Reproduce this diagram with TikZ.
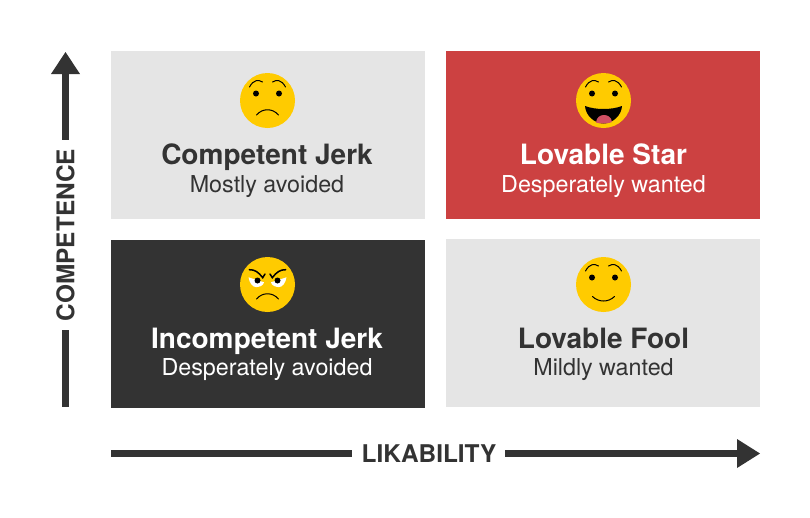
\documentclass[tikz,border=0pt]{standalone}
\usepackage{fontspec}
\setmainfont{TeX Gyre Heros}
\definecolor{dark}{HTML}{333333}
\definecolor{lgray}{HTML}{E5E5E5}
\definecolor{redq}{HTML}{CC4141}
\definecolor{face}{HTML}{FFCB00}
\definecolor{tongue}{HTML}{CF4F63}
\tikzset{
  tile/.style={draw=none,anchor=north west,inner sep=0pt,minimum width=314pt,minimum height=168pt},
  titleD/.style={text=dark,font=\fontsize{28}{30}\selectfont\bfseries,inner sep=0pt,anchor=base},
  subD/.style={text=dark,font=\fontsize{23.3}{26}\selectfont,inner sep=0pt,anchor=base},
  titleL/.style={titleD,text=white},
  subL/.style={subD,text=white},
  axlabel/.style={text=dark,font=\fontsize{24.4}{26}\selectfont\bfseries,inner sep=0pt},
  fc/.style={fill=face,draw=none,circle,inner sep=0pt,minimum size=55pt},
  ln/.style={draw=black,line width=1pt,line cap=round},
  hvy/.style={ln,line width=1.5pt},
  ax/.style={fill=dark,draw=none}
}
\newcommand{\stdeyes}{%
  \fill[black] (-11.5,7) circle (3);
  \fill[black] (11.5,7) circle (3);
  \draw[ln] (-18,13.5) .. controls (-14,21) and (-9,21) .. (-5,18.5);
  \draw[ln] (18,13.5) .. controls (14,21) and (9,21) .. (5,18.5);
}
\begin{document}
\begin{tikzpicture}[x=1pt,y=-1pt]
\useasboundingbox (0,0) rectangle (810,517);
\node[tile,fill=lgray] (tl) at (111,51) {};
\node[tile,fill=redq] (tr) at (446,51) {};
\node[tile,fill=dark] (bl) at (111,240) {};
\node[tile,fill=lgray] (br) at (446,239) {};
\node[titleD] (t1) at (267,164.5) {Competent Jerk};
\node[subD] (s1) at (267,192) {Mostly avoided};
\node[titleL] (t2) at (603.5,164.5) {Lovable Star};
\node[subL] (s2) at (603.5,192) {Desperately wanted};
\node[titleL] (t3) at (267,348.5) {Incompetent Jerk};
\node[subL] (s3) at (267,375.5) {Desperately avoided};
\node[titleD] (t4) at (603.5,348.5) {Lovable Fool};
\node[subD] (s4) at (603.5,375.5) {Mildly wanted};
% faces
\node[fc] (f1) at (267.5,100.5) {};
\node[fc] (f2) at (603.5,100.5) {};
\node[fc] (f3) at (267.5,284.5) {};
\node[fc] (f4) at (603.5,284.5) {};
\begin{scope}[shift={(f1.center)},y=1pt]
  \stdeyes
  \draw[ln] (-11,-14.5) .. controls (-5,-7.5) and (5,-7.5) .. (11,-14.5);
\end{scope}
\begin{scope}[shift={(f2.center)},y=1pt]
  \stdeyes
  \fill[black] (-18.5,-5.5) .. controls (-8,-9.5) and (8,-9.5) .. (18.5,-5.5)
     .. controls (18,-15) and (9,-23) .. (0,-23) .. controls (-9,-23) and (-18,-15) .. (-18.5,-5.5) -- cycle;
  \fill[tongue] (-7.5,-22) .. controls (-7,-16.5) and (-3,-14.5) .. (0.5,-14.5)
     .. controls (4,-14.5) and (8,-16.5) .. (8.5,-21.5)
     .. controls (5.5,-22.7) and (3,-23) .. (0,-23) .. controls (-3,-23) and (-5.5,-22.7) .. (-7.5,-22) -- cycle;
\end{scope}
\begin{scope}[shift={(f3.center)},y=1pt]
  \fill[white] (-19,7.2) -- (-3.5,2.2) .. controls (-4,-1.5) and (-9,-2.6) .. (-11.5,-2.6) .. controls (-15,-2.6) and (-18,1.5) .. (-19,7.2) -- cycle;
  \fill[white] (19,7.2) -- (3.5,2.2) .. controls (4,-1.5) and (9,-2.6) .. (11.5,-2.6) .. controls (15,-2.6) and (18,1.5) .. (19,7.2) -- cycle;
  \fill[black] (-10,4) circle (3);
  \fill[black] (10,4) circle (3);
  \draw[hvy] (-18.2,14.8) .. controls (-13,15) and (-9,12.5) .. (-4.8,6.8) -- (-2.5,10.5);
  \draw[hvy] (18.2,14.8) .. controls (13,15) and (9,12.5) .. (4.8,6.8) -- (2.5,10.5);
  \draw[ln] (-11,-14.5) .. controls (-5,-7.5) and (5,-7.5) .. (11,-14.5);
\end{scope}
\begin{scope}[shift={(f4.center)},y=1pt]
  \stdeyes
  \draw[ln] (-11,-12) .. controls (-5,-18) and (5,-18) .. (11,-12);
\end{scope}
% axes
\node[axlabel,rotate=90] (cl) at (65.5,235) {COMPETENCE};
\node[axlabel] (ll) at (429,454) {LIKABILITY};
\fill[ax] (62,140) rectangle (69,74);
\fill[ax] (51,74) -- (65.5,52) -- (80,74) -- cycle;
\fill[ax] (62,330) rectangle (69,407);
\fill[ax] (111,450) rectangle (352,457);
\fill[ax] (505,450) rectangle (737,457);
\fill[ax] (737,439) -- (760,453.5) -- (737,468) -- cycle;
\end{tikzpicture}
\end{document}
